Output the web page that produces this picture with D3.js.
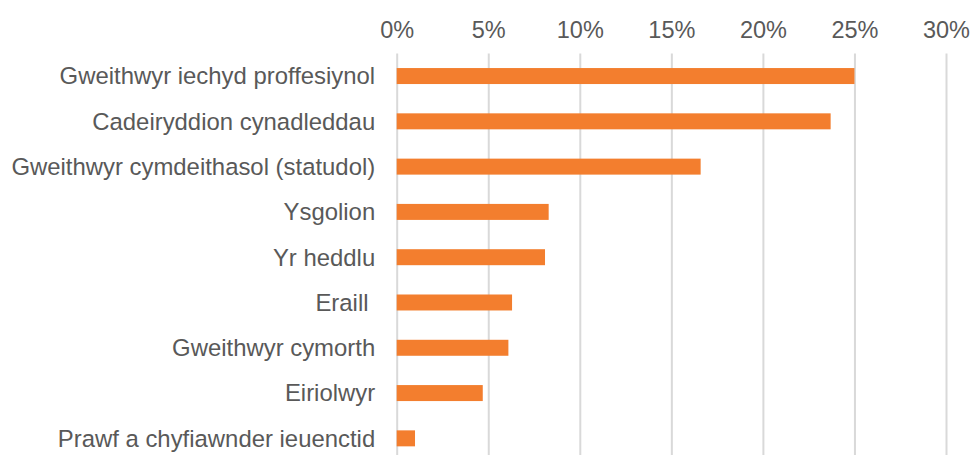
<!DOCTYPE html>
<html>
<head>
<meta charset="utf-8">
<script src="https://cdn.jsdelivr.net/npm/d3@7"></script>
<style>
  body { margin: 0; background: #fff; }
  svg text { font-family: "Liberation Sans", Arial, sans-serif; fill: #595959; }
  .grid line { stroke: #d9d9d9; stroke-width: 2; }
  .grid .domain { display: none; }
</style>
</head>
<body>
<svg width="971" height="455"></svg>
<script>
// Data
const categories = [
  'Gweithwyr iechyd proffesiynol',
  'Cadeiryddion cynadleddau',
  'Gweithwyr cymdeithasol (statudol)',
  'Ysgolion',
  'Yr heddlu',
  'Eraill ',
  'Gweithwyr cymorth',
  'Eiriolwyr',
  'Prawf a chyfiawnder ieuenctid'
];
const values = [0.250, 0.237, 0.166, 0.083, 0.081, 0.063, 0.061, 0.047, 0.010];
const tickValues = [0, 0.05, 0.10, 0.15, 0.20, 0.25, 0.30];

const svg = d3.select('svg');
const width = 971;
const height = 455;
const marginLeft = 396.7;
const marginRight = 25;
const marginTop = 53.4;

const x = d3.scaleLinear()
  .domain([0, 0.30])
  .range([marginLeft, width - marginRight]);

const y = d3.scaleBand()
  .domain(categories)
  .range([marginTop, 461])
  .paddingInner(0.647)
  .paddingOuter(0.3235);

// grid + tick labels
svg.append('g')
  .attr('class', 'grid')
  .attr('transform', `translate(0, ${marginTop})`)
  .call(d3.axisTop(x)
    .tickValues(tickValues)
    .tickSizeInner(-(height - marginTop))
    .tickSizeOuter(0)
    .tickPadding(15.5)
    .tickFormat(d3.format('.0%')))
  .call(g => g.selectAll('text')
    .attr('font-size', 23.5)
    .attr('fill', '#595959'));

// bars
svg.append('g')
  .selectAll('rect')
  .data(values)
  .enter()
  .append('rect')
    .attr('x', x(0))
    .attr('y', (d, i) => y(categories[i]))
    .attr('width', d => x(d) - x(0))
    .attr('height', y.bandwidth())
    .attr('fill', '#f37e2e');

// category labels
svg.append('g')
  .selectAll('text')
  .data(categories)
  .enter()
  .append('text')
    .attr('x', marginLeft - 21.5)
    .attr('y', d => y(d) + y.bandwidth() / 2)
    .attr('dy', '0.35em')
    .attr('text-anchor', 'end')
    .attr('font-size', 23.9)
    .style('white-space', 'pre')
    .text(d => d);
</script>
</body>
</html>
